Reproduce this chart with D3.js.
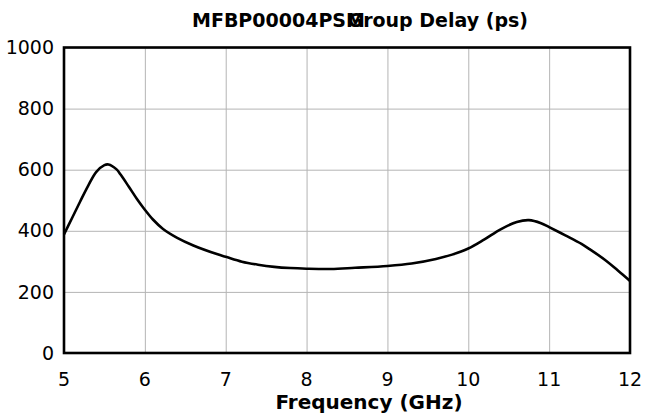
<!DOCTYPE html>
<html>
<head>
<meta charset="utf-8">
<script src="https://cdn.jsdelivr.net/npm/d3@7"></script>
<style>
  body { margin: 0; background: #fff; }
  svg text { font-family: "DejaVu Sans", sans-serif; fill: #000; }
  .grid line { stroke: #b4b4b4; stroke-width: 1; }
  .grid path { display: none; }
  .tick-label { font-size: 19px; }
  .title { font-size: 19px; font-weight: bold; }
  .axis-label { font-size: 20px; font-weight: bold; }
</style>
</head>
<body>
<div id="chart"></div>
<script>
// frequency (GHz) and group delay (ps)
const freq = [5.0, 5.1, 5.2, 5.3, 5.4, 5.5, 5.55, 5.65, 5.7, 5.8, 5.9, 6.0,
  6.1, 6.225, 6.4, 6.6, 6.9, 7.0, 7.2, 7.4, 7.6, 7.8, 8.0, 8.3, 8.6, 9.0,
  9.3, 9.6, 9.8, 10.0, 10.2, 10.4, 10.6, 10.75, 10.9, 11.0, 11.2, 11.4,
  11.5, 11.7, 11.85, 12.0];
const delay = [388, 442, 496, 548, 593, 615, 617, 601, 584, 545, 505, 469,
  437, 406, 377, 352, 323, 315, 299, 289, 282, 278, 276, 275, 279, 285,
  293, 308, 322, 342, 372, 405, 429, 435, 425, 412, 385, 357,
  340, 303, 270, 236];
const xTicks = [5, 6, 7, 8, 9, 10, 11, 12];
const yTicks = [0, 200, 400, 600, 800, 1000];
const titleLeft = "MFBP00004PSM";
const titleRight = "Group Delay (ps)";
const xTitle = "Frequency (GHz)";

const W = 647, H = 419;
const margin = {top: 47.5, right: 17, bottom: 66, left: 64};
const width = W - margin.left - margin.right,
      height = H - margin.top - margin.bottom;

const x = d3.scaleLinear().domain([5, 12]).range([0, width]);
const y = d3.scaleLinear().domain([0, 1000]).range([height, 0]);

const svg = d3.select("#chart").append("svg")
    .attr("width", W).attr("height", H);
const g = svg.append("g")
    .attr("transform", "translate(" + margin.left + "," + margin.top + ")");

// grid
g.append("g").attr("class", "grid")
  .attr("transform", "translate(0," + height + ")")
  .call(d3.axisBottom(x).tickValues(xTicks).tickSize(-height).tickFormat(""));
g.append("g").attr("class", "grid")
  .call(d3.axisLeft(y).tickValues(yTicks).tickSize(-width).tickFormat(""));

// the curve
const pts = freq.map((f, i) => ({f: f, v: delay[i]}));
g.append("path")
  .datum(pts)
  .attr("fill", "none")
  .attr("stroke", "#000")
  .attr("stroke-width", 2.6)
  .attr("stroke-linejoin", "round")
  .attr("d", d3.line().x(d => x(d.f)).y(d => y(d.v)).curve(d3.curveCatmullRom.alpha(0.5)));

// frame
g.append("rect")
  .attr("width", width).attr("height", height)
  .attr("fill", "none").attr("stroke", "#000").attr("stroke-width", 2.6);

// tick labels
g.selectAll(".xt").data(xTicks).enter().append("text")
  .attr("class", "tick-label")
  .attr("x", d => x(d)).attr("y", height + 33)
  .attr("text-anchor", "middle")
  .text(d => d);
g.selectAll(".yt").data(yTicks).enter().append("text")
  .attr("class", "tick-label")
  .attr("x", -10).attr("y", d => y(d))
  .attr("dy", "0.35em")
  .attr("text-anchor", "end")
  .text(d => d);

// titles (they overlap in the original)
svg.append("text").attr("class", "title")
  .attr("x", 192).attr("y", 27)
  .text(titleLeft);
svg.append("text").attr("class", "title")
  .attr("x", 528).attr("y", 27).attr("text-anchor", "end")
  .text(titleRight);

svg.append("text").attr("class", "axis-label")
  .attr("x", 369).attr("y", 409)
  .attr("text-anchor", "middle")
  .text(xTitle);
</script>
</body>
</html>
